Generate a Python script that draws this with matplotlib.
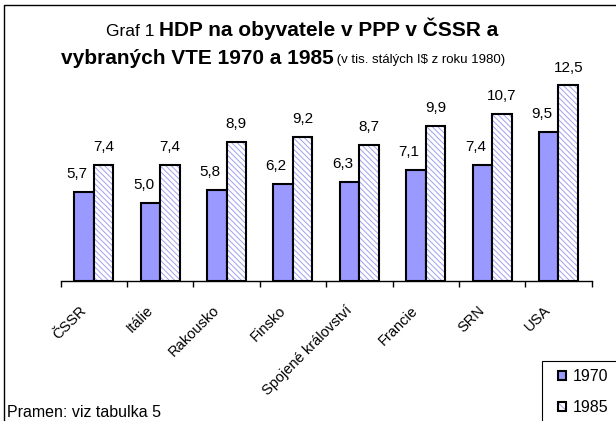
import numpy as np
import matplotlib
matplotlib.use("Agg")
from matplotlib import pyplot as plt
from matplotlib import patches, lines
from matplotlib.transforms import ScaledTranslation
from matplotlib.offsetbox import TextArea, HPacker, AnchoredOffsetbox

plt.rcParams['font.family'] = ['Liberation Sans', 'DejaVu Sans']
plt.rcParams['hatch.linewidth'] = 0.7

countries = ["ČSSR", "Itálie", "Rakousko", "Finsko", "Spojené království",
             "Francie", "SRN", "USA"]
hdp_1970 = [5.7, 5.0, 5.8, 6.2, 6.3, 7.1, 7.4, 9.5]
hdp_1985 = [7.4, 7.4, 8.9, 9.2, 8.7, 9.9, 10.7, 12.5]
years = ["1970", "1985"]

c_fill = "#9999ff"
c_hatch = "#a0a0f0"
hatch = "\\" * 6

fig = plt.figure(figsize=(6.16, 4.21), dpi=100)
ax = fig.add_axes([0.0985, 0.3337, 0.862, 0.5188])

x = np.arange(len(countries))
w = 0.294
ax.bar(x - w/2, hdp_1970, w, color=c_fill, edgecolor="black", lw=1.5, zorder=3)
ax.bar(x + w/2, hdp_1985, w, color="white", edgecolor=c_hatch, hatch=hatch,
       lw=0, zorder=3)
ax.bar(x + w/2, hdp_1985, w, fill=False, edgecolor="black", lw=1.5, zorder=4)

def fmt(v):
    return f"{v:.1f}".replace(".", ",")

for xi, v in zip(x, hdp_1970):
    ax.annotate(fmt(v), (xi - w/2, v), xytext=(-5, 10), textcoords="offset points",
                ha="center", va="baseline", fontsize=11)
for xi, v in zip(x, hdp_1985):
    ax.annotate(fmt(v), (xi + w/2, v), xytext=(0, 10), textcoords="offset points",
                ha="center", va="baseline", fontsize=11)

ax.set_xlim(-0.5, len(countries) - 0.5)
ax.set_ylim(0, 14)
for s in ["left", "right", "top"]:
    ax.spines[s].set_visible(False)
ax.spines["bottom"].set_linewidth(1)
ax.set_yticks([])
ax.set_xticks(x)
ax.set_xticks(np.arange(-0.5, len(countries)), minor=True)
ax.tick_params(axis="x", which="major", length=0, pad=0)
ax.tick_params(axis="x", which="minor", length=4, width=1, direction="out")
ax.set_xticklabels(countries, rotation=45, ha="right", va="center",
                   rotation_mode="anchor", fontsize=10.5)
off = ScaledTranslation(-7/72, -20/72, fig.dpi_scale_trans)
for lab in ax.get_xticklabels():
    lab.set_transform(lab.get_transform() + off)

# title
big = dict(fontsize=15, fontweight="bold")
line1 = HPacker(children=[TextArea("Graf 1 ", textprops=dict(fontsize=12.5)),
                          TextArea("HDP na obyvatele v PPP v ČSSR a", textprops=big)],
                align="baseline", pad=0, sep=0)
line2 = HPacker(children=[TextArea("vybraných VTE 1970 a 1985", textprops=big),
                          TextArea(" (v tis. stálých I$ z roku 1980)",
                                   textprops=dict(fontsize=9.5))],
                align="baseline", pad=0, sep=0)
for box, pos in [(line1, (302/616, 1 - 29/421)), (line2, (283/616, 1 - 58/421))]:
    fig.add_artist(AnchoredOffsetbox(loc="center", child=box, pad=0, borderpad=0,
                                     frameon=False, bbox_to_anchor=pos,
                                     bbox_transform=fig.transFigure))

fig.text(7/616, 4.3/421, "Pramen: viz tabulka 5", fontsize=11.5, va="baseline")

# legend
h1 = patches.Patch(facecolor=c_fill, edgecolor="black", lw=1.5)
h2 = (patches.Patch(facecolor="white", edgecolor=c_hatch, hatch="\\\\\\", lw=0),
      patches.Patch(fill=False, edgecolor="black", lw=1.5))
leg = fig.legend([h1, h2], years, loc="upper left",
                 bbox_to_anchor=(558/616, 1 - 369/421), frameon=False,
                 fontsize=11.5, handlelength=0.5, handleheight=0.5,
                 handletextpad=0.4, labelspacing=1.0, borderpad=0,
                 borderaxespad=0)
fig.add_artist(patches.Rectangle((542/616, -0.05), 0.2, 0.05 + (421-361)/421,
                                 transform=fig.transFigure, fill=False,
                                 edgecolor="black", lw=0.8))

# outer frame
fig.add_artist(lines.Line2D([4/616, 4/616, 1.01], [-0.01, 1 - 5/421, 1 - 5/421],
                            transform=fig.transFigure, color="black", lw=1))

fig.savefig("out.png", dpi=100)
